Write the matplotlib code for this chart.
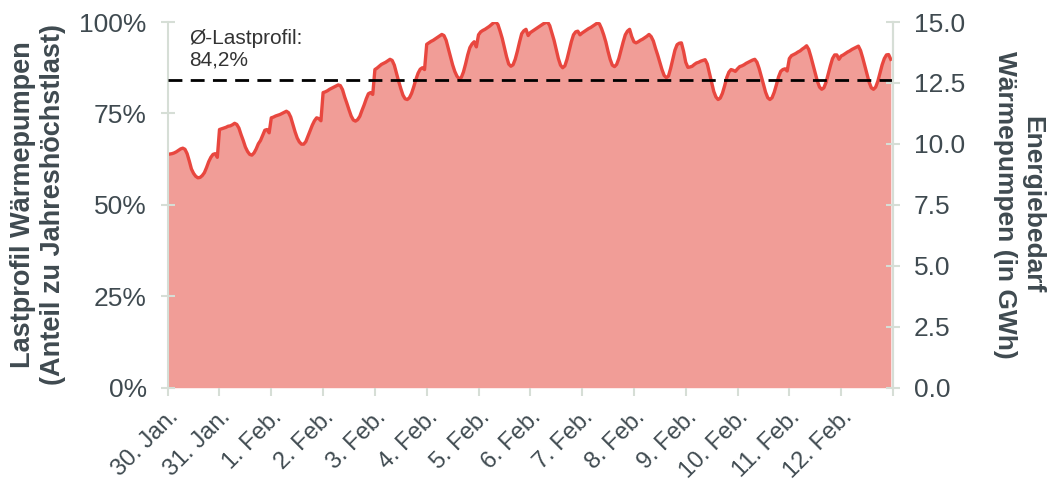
import numpy as np
import matplotlib.pyplot as plt
from matplotlib.ticker import FuncFormatter

plt.rcParams['font.family'] = ['Liberation Sans', 'DejaVu Sans']

# hourly load profile (share of annual peak load, %), one list per day
jan30 = [63.8, 63.9, 64.0, 64.2, 64.5, 64.9, 65.3, 65.5, 65.2, 64.0, 62.0, 59.8,
         58.6, 57.8, 57.4, 57.5, 58.0, 58.8, 60.2, 61.8, 63.0, 63.8, 64.0, 63.0]
jan31 = [70.6, 70.8, 71.0, 71.2, 71.5, 71.6, 71.9, 72.3, 72.0, 71.0, 69.2, 67.6,
         65.8, 64.6, 63.8, 63.6, 64.2, 65.3, 66.7, 67.6, 69.0, 70.4, 70.6, 69.7]
feb01 = [73.8, 74.0, 74.3, 74.5, 74.7, 75.0, 75.3, 75.6, 75.2, 74.0, 72.0, 70.0,
         68.3, 67.2, 66.6, 66.6, 67.3, 68.8, 70.3, 71.8, 73.0, 73.8, 73.6, 73.0]
feb02 = [80.7, 80.9, 81.2, 81.6, 81.9, 82.2, 82.5, 82.8, 82.6, 81.5, 79.5, 77.8,
         76.0, 74.3, 73.2, 72.9, 73.3, 74.2, 75.8, 77.3, 79.0, 80.4, 80.7, 80.2]
feb03 = [87.0, 87.4, 87.9, 88.4, 88.7, 89.0, 89.4, 89.8, 89.5, 88.2, 86.0, 83.8,
         81.8, 80.0, 79.0, 78.8, 79.3, 80.5, 82.3, 84.3, 86.0, 87.1, 87.5, 87.0]
feb04 = [93.9, 94.3, 94.7, 95.0, 95.4, 95.8, 96.2, 96.6, 96.3, 95.0, 92.8, 90.5,
         88.3, 86.5, 85.2, 84.5, 84.8, 86.3, 88.5, 91.0, 93.0, 94.0, 94.6, 93.2]
feb05 = [96.5, 97.3, 97.7, 98.0, 98.4, 98.8, 99.3, 99.8, 100.0, 99.3, 97.5, 95.5,
         93.0, 90.5, 88.5, 87.9, 88.3, 89.8, 92.0, 94.5, 96.8, 97.6, 98.0, 96.3]
feb06 = [97.1, 97.5, 97.9, 98.3, 98.7, 99.1, 99.5, 99.8, 100.0, 99.0, 97.0, 95.0,
         92.5, 90.0, 88.2, 87.5, 88.0, 89.8, 92.2, 94.6, 96.5, 97.3, 97.5, 96.5]
feb07 = [97.0, 97.4, 97.8, 98.2, 98.5, 98.9, 99.3, 99.7, 99.5, 98.2, 96.5, 94.5,
         92.0, 89.8, 88.2, 87.8, 88.4, 90.0, 92.3, 94.5, 96.5, 97.5, 98.0, 96.0]
feb08 = [94.6, 94.3, 94.6, 95.0, 95.3, 95.7, 96.1, 96.6, 96.0, 94.8, 92.8, 91.0,
         89.0, 87.0, 85.4, 84.8, 85.2, 87.3, 89.8, 92.3, 93.8, 94.2, 94.3, 92.0]
feb09 = [89.0, 87.6, 87.7, 87.9, 88.4, 88.8, 89.0, 89.3, 89.5, 89.7, 88.5, 86.0,
         83.5, 81.0, 79.5, 78.8, 79.2, 80.5, 82.5, 84.8, 86.3, 87.0, 86.8, 86.5]
feb10 = [87.2, 87.8, 88.0, 88.3, 88.7, 89.0, 89.3, 89.6, 89.8, 89.0, 87.3, 85.2,
         83.0, 80.8, 79.3, 78.8, 79.3, 80.8, 82.8, 85.0, 86.5, 87.0, 87.2, 86.6]
feb11 = [90.0, 90.8, 91.1, 91.4, 91.8, 92.1, 92.6, 93.0, 93.5, 92.5, 90.5, 88.3,
         86.0, 83.8, 82.2, 81.6, 82.0, 83.5, 85.8, 88.0, 90.0, 91.0, 91.0, 89.8]
feb12 = [90.7, 91.0, 91.4, 91.8, 92.1, 92.5, 92.8, 93.1, 93.4, 92.2, 90.2, 88.0,
         85.8, 83.5, 82.0, 81.6, 82.2, 83.8, 86.0, 88.3, 90.0, 91.0, 91.1, 89.8]

day_labels = ['30. Jan.', '31. Jan.', '1. Feb.', '2. Feb.', '3. Feb.', '4. Feb.',
              '5. Feb.', '6. Feb.', '7. Feb.', '8. Feb.', '9. Feb.', '10. Feb.',
              '11. Feb.', '12. Feb.']
mean_profile = 84.2
left_ticks = [0, 25, 50, 75, 100]
right_ticks = [0, 2.5, 5, 7.5, 10, 12.5, 15]

profile = np.concatenate([jan30, jan31, feb01, feb02, feb03, feb04, feb05,
                          feb06, feb07, feb08, feb09, feb10, feb11, feb12])
hours = np.arange(len(profile))

axis_col = '#d6ded6'
text_col = '#3f4a50'

fig = plt.figure(figsize=(10.52, 4.87), dpi=100)
ax = fig.add_axes([0.1594, 0.2039, 0.6894, 0.7509])

ax.fill_between(hours, profile, color='#f19d97', lw=0)
ax.plot(hours, profile, color='#e8473f', lw=2.4)
ax.axhline(mean_profile, color='black', lw=2, ls=(0, (5, 3)), zorder=5)

ax.text(10, 98.2, 'Ø-Lastprofil:\n84,2%', fontsize=15, color='#333333',
        va='top', ha='left', linespacing=1.2)

ax.set_xlim(0, 24 * len(day_labels))
ax.set_ylim(0, 100)
ax.set_yticks(left_ticks)
ax.yaxis.set_major_formatter(FuncFormatter(lambda v, p: f'{v:.0f}%'))
ax.set_xticks(np.arange(0, 24 * len(day_labels) + 1, 24))
ax.set_xticklabels(day_labels + [''], rotation=45, ha='right',
                   rotation_mode='anchor')

for s in ['top', 'bottom']:
    ax.spines[s].set_visible(False)
for s in ['left', 'right']:
    ax.spines[s].set_color(axis_col)
    ax.spines[s].set_linewidth(1.5)

ax.tick_params(axis='y', direction='inout', length=10, width=1.5,
               color=axis_col, labelcolor=text_col, labelsize=19, pad=10)
ax.tick_params(axis='x', direction='out', length=6, width=1.5,
               color=axis_col, labelcolor=text_col, labelsize=17, pad=7)

ax.set_ylabel('Lastprofil Wärmepumpen\n(Anteil zu Jahreshöchstlast)',
              fontsize=19.5, fontweight='bold', color=text_col, labelpad=10,
              linespacing=1.2)

ax2 = ax.twinx()
ax2.set_ylim(0, 15)
ax2.set_yticks(right_ticks)
ax2.yaxis.set_major_formatter(FuncFormatter(lambda v, p: f'{v:.1f}'))
for s in ['top', 'bottom', 'left']:
    ax2.spines[s].set_visible(False)
ax2.spines['right'].set_color(axis_col)
ax2.spines['right'].set_linewidth(1.5)
ax2.tick_params(axis='y', direction='inout', length=10, width=1.5,
                color=axis_col, labelcolor=text_col, labelsize=19, pad=10)
ax2.set_ylabel('Energiebedarf\nWärmepumpen (in GWh)', rotation=270,
               va='bottom', fontsize=19, fontweight='bold', color=text_col,
               labelpad=20, linespacing=1.2)

fig.savefig('out.png', dpi=100)
